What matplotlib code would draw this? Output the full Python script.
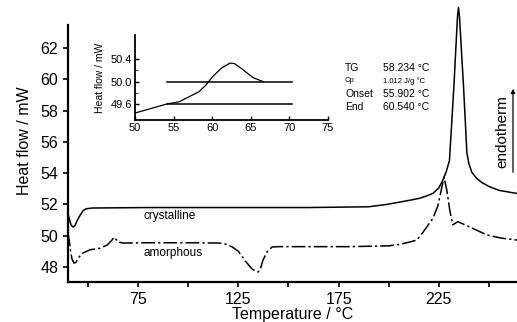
import matplotlib.pyplot as plt

plt.rcParams["font.family"] = ["Liberation Sans", "DejaVu Sans"]

# DSC traces, temperature in degC, heat flow in mW
cryst_t = [40.0, 40.8, 41.5, 42.5, 43.5, 44.5, 46.0, 47.5, 49.0, 52.0, 80, 120, 160,
           190, 199, 205.6, 211, 215.7, 219, 222, 225, 227, 228.7, 230.3, 232.5,
           234.3, 234.8, 235.3, 237.3, 239.0, 240.0, 241.5, 244, 246.5, 250, 255, 264]
cryst_hf = [51.4, 51.0, 50.7, 50.55, 50.65, 50.95, 51.3, 51.6, 51.72, 51.77, 51.8, 51.8,
            51.8, 51.85, 52.0, 52.15, 52.28, 52.4, 52.55, 52.7, 53.05, 53.55, 54.1, 54.8,
            59.5, 64.0, 64.6, 64.0, 59.6, 55.3, 54.6, 54.05, 53.65, 53.4, 53.15, 52.9, 52.7]

amorph_t = [40.0, 40.6, 41.3, 42.0, 43.0, 44.0, 45.0, 47.5, 51.0, 56.0, 59.5, 62.0, 63.0,
            64.0, 65.0, 67.5, 80, 100, 115.8, 119, 122, 125, 127, 129, 130.3, 132, 134.8,
            135.8, 137.3, 139.3, 141.8, 145, 160, 180, 200, 205.6, 210.6, 214, 217, 222,
            224.5, 226, 227.6, 229, 230.5, 232, 234.5, 240.5, 249, 256, 264]
amorph_hf = [50.2, 49.7, 49.0, 48.5, 48.25, 48.3, 48.57, 48.9, 49.1, 49.2, 49.4, 49.73,
             49.9, 49.75, 49.6, 49.53, 49.55, 49.55, 49.53, 49.45, 49.28, 49.0, 48.64,
             48.3, 48.1, 47.85, 47.68, 47.8, 48.45, 48.96, 49.28, 49.3, 49.3, 49.3, 49.35,
             49.45, 49.6, 49.72, 50.2, 51.1, 51.9, 52.8, 53.75, 52.9, 51.6, 50.7, 50.9,
             50.55, 50.05, 49.85, 49.72]

# glass transition detail (inset)
tg_t = [50.0, 54.1, 55.7, 57.0, 58.3, 59.2, 60.0, 61.2, 62.3, 62.9, 64.0, 65.3, 66.6]
tg_hf = [49.44, 49.6, 49.64, 49.73, 49.82, 49.94, 50.08, 50.24, 50.33, 50.32, 50.21,
         50.07, 50.0]
tangent_t = [54.1, 70.3]
tangent_upper = [50.0, 50.0]
tangent_lower = [49.6, 49.6]

result_names = ["TG", "Cp", "Onset", "End"]
result_values = ["58.234 °C", "1.012 J/g °C", "55.902 °C", "60.540 °C"]

fig = plt.figure(figsize=(5.17, 3.22), dpi=100)
ax = fig.add_axes([68 / 517, 40 / 322, 449 / 517, 282 / 322])
ax.plot(cryst_t, cryst_hf, color="black", lw=1.1)
ax.plot(amorph_t, amorph_hf, color="black", lw=1.1, ls=(0, (9, 2, 1.5, 2)))
ax.set_xlim(40, 264)
ax.set_ylim(47.04, 65.07)
ax.set_xticks([50, 75, 100, 125, 150, 175, 200, 225, 250])
ax.set_xticklabels(["", "75", "", "125", "", "175", "", "225", ""])
ax.set_yticks([48, 50, 52, 54, 56, 58, 60, 62])
ax.tick_params(labelsize=11.5, length=3.5, width=1.2, direction="out")
ax.spines[["top", "right"]].set_visible(False)
ax.spines["left"].set_bounds(47.04, 63.5)
for s in ("left", "bottom"):
    ax.spines[s].set_linewidth(1.6)
ax.set_xlabel("Temperature / °C", fontsize=11.5, labelpad=0)
ax.set_ylabel("Heat flow / mW", fontsize=11.5, labelpad=6)

ax.text(77.5, 51.26, "crystalline", fontsize=8.5, va="center")
ax.text(77.5, 48.9, "amorphous", fontsize=8.5, va="center")

fig.text(502 / 517, 1 - 132 / 322, "endotherm", rotation=90, fontsize=11,
         ha="center", va="center")
fig.patches.append(plt.matplotlib.patches.FancyArrowPatch(
    (513 / 517, 1 - 175 / 322), (513 / 517, 1 - 86 / 322),
    transform=fig.transFigure, arrowstyle="-|>", mutation_scale=6, lw=0.9,
    color="black"))

# inset with the glass transition
ins = fig.add_axes([135 / 517, 1 - 120 / 322, 193 / 517, 85 / 322])
ins.plot(tg_t, tg_hf, color="black", lw=0.9)
ins.plot(tangent_t, tangent_upper, color="black", lw=1.1)
ins.plot(tangent_t, tangent_lower, color="black", lw=1.1)
ins.set_xlim(50, 75)
ins.set_ylim(49.316, 50.83)
ins.set_xticks([50, 55, 60, 65, 70, 75])
ins.set_yticks([49.6, 50.0, 50.4])
ins.set_yticks([49.8, 50.2], minor=True)
ins.set_yticklabels(["49.6", "50.0", "50.4"])
ins.tick_params(labelsize=8, length=3, width=1, direction="in", pad=2)
ins.tick_params(which="minor", length=2, direction="in")
ins.spines[["top", "right"]].set_visible(False)
ins.spines["left"].set_bounds(49.316, 50.83)
for s in ("left", "bottom"):
    ins.spines[s].set_linewidth(1.3)
ins.patch.set_alpha(0)
ins.set_ylabel("Heat flow / mW", fontsize=7.5, labelpad=4)

row_y = [68, 81, 94, 107]
for name, val, y in zip(result_names, result_values, row_y):
    size = 5.5 if name == "Cp" else 7.5
    fig.text(345 / 517, 1 - y / 322, name, fontsize=size, va="center")
    fig.text(383 / 517, 1 - y / 322, val, fontsize=size, va="center")

fig.savefig("out.png", dpi=100)
